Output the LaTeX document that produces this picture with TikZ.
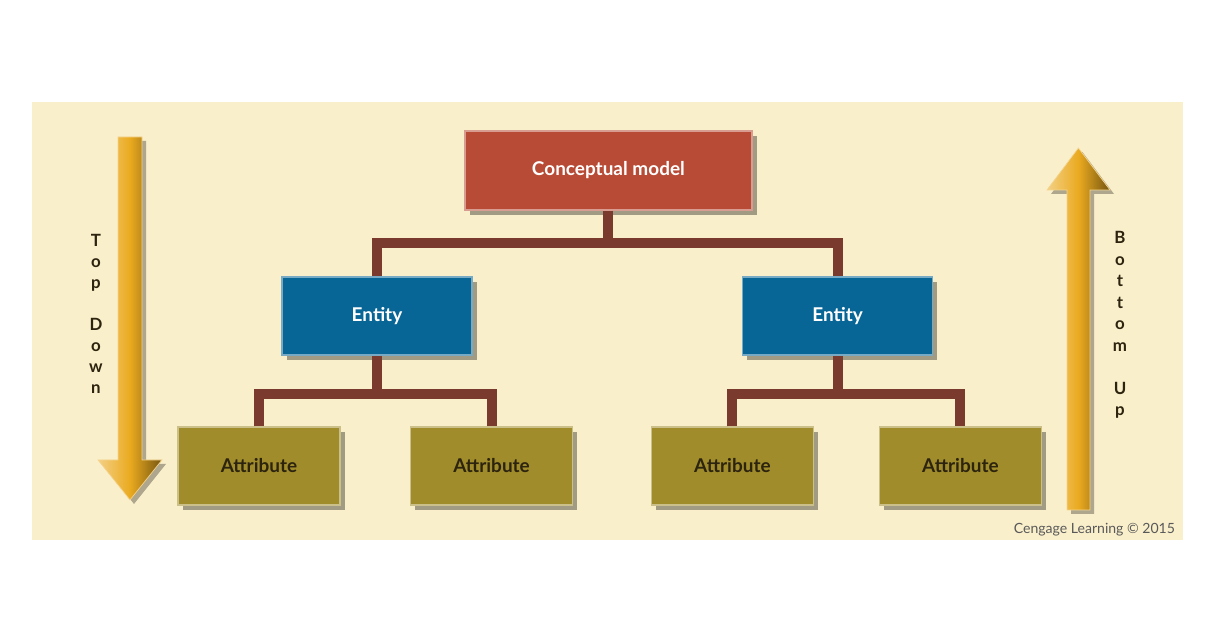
\documentclass[tikz,border=0pt]{standalone}
\usepackage{fontspec}
\setmainfont{Lato}
\usepackage{xcolor}
\usepackage{tikz}
\usetikzlibrary{positioning, calc, shadows}
\definecolor{paper}{RGB}{250, 239, 203}
\definecolor{modelred}{RGB}{184, 75, 54}
\definecolor{entityblue}{RGB}{8, 102, 150}
\definecolor{attrolive}{RGB}{160, 140, 42}
\definecolor{linkbrown}{RGB}{122, 59, 46}
\definecolor{arrowgold}{RGB}{234, 170, 32}
\definecolor{textdark}{RGB}{45, 36, 16}

\begin{document}
\begin{tikzpicture}[
    box/.style={rectangle, inner sep=0pt, font=\fontsize{13.5}{16}\selectfont\bfseries,
        drop shadow={shadow xshift=0.12cm, shadow yshift=-0.12cm, fill=black, opacity=0.35}},
    modelbox/.style={box, fill=modelred, draw=modelred!55!white, line width=1pt,
        text=white, minimum width=7.175cm, minimum height=1.975cm},
    entitybox/.style={box, fill=entityblue, draw=entityblue!55!white, line width=1pt,
        text=white, minimum width=4.75cm, minimum height=1.95cm},
    attrbox/.style={box, fill=attrolive, draw=attrolive!55!white, line width=1pt,
        text=textdark, minimum width=4.05cm, minimum height=1.95cm},
    link/.style={line width=7pt, linkbrown},
    goldarrow/.style={shading=axis, left color=arrowgold!55!white, right color=arrowgold!50!black,
        middle color=arrowgold, draw=arrowgold!50!white, line width=0.5pt,
        drop shadow={shadow xshift=0.1cm, shadow yshift=-0.1cm, fill=black, opacity=0.3}},
    stack/.style={align=center, text=textdark, font=\fontsize{12}{14.9}\selectfont\bfseries}
]
    % Page and background
    \useasboundingbox (0, 0) rectangle (30.425, 15.8);
    \fill[white] (0, 0) rectangle (30.425, 15.8);
    \fill[paper] (0.8, 2.3) rectangle (29.575, 13.25);

    % Direction arrows
    \path[goldarrow] (2.95, 12.375) -- (3.55, 12.375) -- (3.55, 4.3) -- (4.05, 4.3)
        -- (3.25, 3.3) -- (2.45, 4.3) -- (2.95, 4.3) -- cycle;
    \path[goldarrow] (26.675, 3.05) -- (27.25, 3.05) -- (27.25, 11.05) -- (27.75, 11.05)
        -- (26.96, 12.1) -- (26.175, 11.05) -- (26.675, 11.05) -- cycle;

    \node[stack] (topdown) at (2.4, 7.96) {T\\o\\p\\[14.9pt]D\\o\\w\\n};
    \node[stack, font=\fontsize{12}{15.3}\selectfont\bfseries] (bottomup) at (28.0, 7.675)
        {B\\o\\t\\t\\o\\m\\[15.3pt]U\\p};

    % Hierarchy
    \node[modelbox] (model) at (15.21, 11.54) {Conceptual model};

    \node[entitybox] (entityL) at (9.425, 7.9) {Entity};
    \node[entitybox] (entityR) at (20.94, 7.9) {Entity};

    \node[attrbox] (attrA) at (6.475, 4.15) {Attribute};
    \node[attrbox] (attrB) at (12.29, 4.15) {Attribute};
    \node[attrbox] (attrC) at (18.31, 4.15) {Attribute};
    \node[attrbox] (attrD) at (24.01, 4.15) {Attribute};

    % Connectors
    \coordinate (bar0) at (15.21, 9.725);
    \coordinate (barL) at (9.425, 5.95);
    \coordinate (barR) at (20.94, 5.95);

    \draw[link] (model.south) -- (model.south |- bar0);
    \draw[link] (entityL.north) |- (bar0) -| (entityR.north);

    \draw[link] (entityL.south) -- (entityL.south |- barL);
    \draw[link] (attrA.north) |- (barL) -| (attrB.north);

    \draw[link] (entityR.south) -- (entityR.south |- barR);
    \draw[link] (attrC.north) |- (barR) -| (attrD.north);

    % Credit
    \node[anchor=base east, font=\fontsize{10}{12}\selectfont, text=black!65] (credit)
        at (29.5, 2.45) {Cengage Learning \textcopyright{} 2015};
\end{tikzpicture}
\end{document}
